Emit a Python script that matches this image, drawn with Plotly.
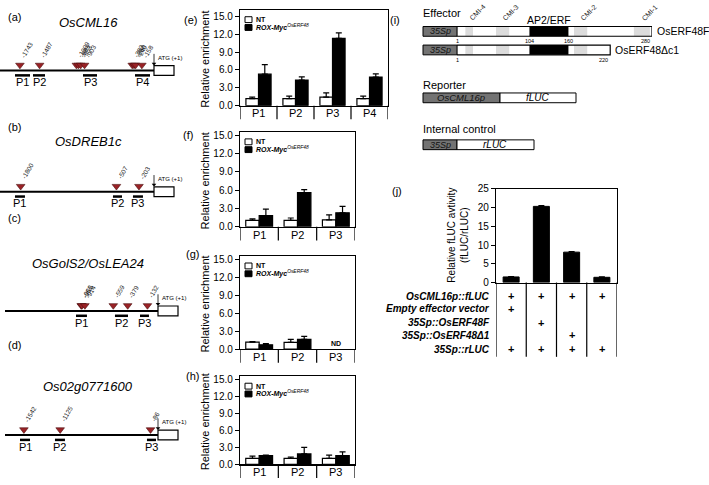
import plotly.graph_objects as go

W, H = 709, 485
FONT = "Liberation Sans, Arial, Helvetica, sans-serif"


def X(px):
    return px / W


def Y(py):
    return 1 - py / H


# ---------------- data ----------------
# (e)-(h) ChIP-qPCR relative enrichment (NT vs ROX-Myc-OsERF48)
e_cats = ["P1", "P2", "P3", "P4"]
e_nt = [1.2, 1.2, 1.45, 1.2]
e_nt_err = [0.25, 0.4, 0.7, 0.4]
e_rox = [5.3, 4.3, 11.3, 4.8]
e_rox_err = [1.6, 0.55, 0.95, 0.55]

f_cats = ["P1", "P2", "P3"]
f_nt = [1.05, 1.05, 1.15]
f_nt_err = [0.25, 0.4, 0.8]
f_rox = [1.85, 5.6, 2.3]
f_rox_err = [1.05, 0.5, 1.05]

g_cats = ["P1", "P2", "P3"]
g_nt = [1.15, 1.1, None]
g_nt_err = [0.1, 0.5, 0]
g_rox = [0.7, 1.6, None]
g_rox_err = [0.2, 0.5, 0]
g_nd_index = 2

h_cats = ["P1", "P2", "P3"]
h_nt = [1.05, 1.05, 1.05]
h_nt_err = [0.4, 0.25, 0.6]
h_rox = [1.55, 1.85, 1.55]
h_rox_err = [0.1, 1.15, 0.65]

enrich_ticks = [0, 3, 6, 9, 12, 15]

# (j) transient assay
j_values = [1.5, 20.3, 8.1, 1.4]
j_errors = [0.1, 0.2, 0.15, 0.1]
j_ticks = [0, 5, 10, 15, 20, 25]
j_row_labels = ["OsCML16p::fLUC", "Empty effector vector", "35Sp::OsERF48F",
                "35Sp::OsERF48\u03941", "35Sp::rLUC"]
j_plus = [[1, 1, 1, 1],
          [1, 0, 0, 0],
          [0, 1, 0, 0],
          [0, 0, 1, 0],
          [1, 1, 1, 1]]

# (a)-(d) promoter diagrams (bp relative to ATG)
atg_pos = 0
a_sites = [-1743, -1487, -1009, -983, -953, -903, -283, -260, -240, -158]
a_primers = [(-1807, -1612), (-1573, -1417), (-923, -741), (-247, -52)]
b_sites = [-1800, -507, -203]
b_primers = [(-1877, -1742), (-554, -432), (-284, -149)]
c_sites = [-960, -951, -914, -559, -379, -132]
c_primers = [(-1025, -888), (-538, -375), (-225, -113)]
d_sites = [-1542, -1125, -86]
d_primers = [(-1587, -1472), (-1185, -1070), (-127, -23)]

# (i) constructs (amino acids)
erf_names = ["OsERF48F", "OsERF48\u0394c1"]
erf_lengths = [280, 220]
cmi_names = ["CMI-4", "CMI-3", "CMI-2", "CMI-1"]
cmi_starts = [12, 56, 168, 254]
cmi_ends = [23, 75, 187, 277]
ap2_range = [104, 160]
ap2_ticks = [1, 104, 160]

# ---------------- helpers ----------------
fig = go.Figure()
shapes = []
annots = []


def txt(x, y, text, size=10, xref="paper", yref="paper", xanchor="center",
        yanchor="middle", angle=0, color="black", **kw):
    annots.append(dict(x=x, y=y, xref=xref, yref=yref, text=text, showarrow=False,
                       font=dict(family=FONT, size=size, color=color),
                       xanchor=xanchor, yanchor=yanchor, textangle=angle, **kw))


def rect(x0, y0, x1, y1, fill="white", line="black", lw=1.0, xref="paper", yref="paper"):
    shapes.append(dict(type="rect", x0=x0, y0=y0, x1=x1, y1=y1, xref=xref, yref=yref,
                       fillcolor=fill, line=dict(color=line, width=lw), layer="above"))


def seg(x0, y0, x1, y1, lw=1.0, color="black", xref="paper", yref="paper"):
    shapes.append(dict(type="line", x0=x0, y0=y0, x1=x1, y1=y1, xref=xref, yref=yref,
                       line=dict(color=color, width=lw), layer="above"))


axes = {}

# ---------------- bar panels (e)-(h) ----------------
panels = [
    dict(letter="(e)", cats=e_cats, nt=e_nt, nte=e_nt_err, rox=e_rox, roxe=e_rox_err,
         box=(240, 388, 5, 103), ymax=16.1, lpos=(190, 15)),
    dict(letter="(f)", cats=f_cats, nt=f_nt, nte=f_nt_err, rox=f_rox, roxe=f_rox_err,
         box=(240, 355, 130, 227), ymax=15.5, lpos=(188, 133)),
    dict(letter="(g)", cats=g_cats, nt=g_nt, nte=g_nt_err, rox=g_rox, roxe=g_rox_err,
         box=(240, 355, 257, 352), ymax=15.5, lpos=(192, 255)),
    dict(letter="(h)", cats=h_cats, nt=h_nt, nte=h_nt_err, rox=h_rox, roxe=h_rox_err,
         box=(240, 355, 380, 470), ymax=15.6, lpos=(192, 380)),
]

for i, p in enumerate(panels, start=1):
    xa = "x" if i == 1 else f"x{i}"
    ya = "y" if i == 1 else f"y{i}"
    l, r, t, b = p["box"]
    n = len(p["cats"])
    xs = list(range(n))
    bw = 0.34 if n == 4 else 0.35
    fig.add_trace(go.Bar(
        x=xs, y=p["nt"], width=bw, offset=-bw, xaxis=xa, yaxis=ya, showlegend=False,
        marker=dict(color="white", line=dict(color="black", width=1.2)),
        error_y=dict(type="data", array=p["nte"], arrayminus=[0] * n, symmetric=False,
                     color="black", thickness=1.2, width=3)))
    fig.add_trace(go.Bar(
        x=xs, y=p["rox"], width=bw, offset=0, xaxis=xa, yaxis=ya, showlegend=False,
        marker=dict(color="black", line=dict(color="black", width=1.2)),
        error_y=dict(type="data", array=p["roxe"], arrayminus=[0] * n, symmetric=False,
                     color="black", thickness=1.2, width=3)))
    axes["xaxis" if i == 1 else f"xaxis{i}"] = dict(
        domain=[X(l), X(r)], range=[-0.5, n - 0.5], anchor=ya, showline=True, mirror=True,
        linecolor="black", linewidth=1.2, ticks="", tickvals=xs, showticklabels=False,
        showgrid=False, zeroline=False)
    axes["yaxis" if i == 1 else f"yaxis{i}"] = dict(
        domain=[Y(b), Y(t)], range=[0, p["ymax"]], anchor=xa, showline=True, mirror=True,
        linecolor="black", linewidth=1.2, ticks="outside", ticklen=4, tickwidth=1,
        tickcolor="black", tickvals=enrich_ticks, ticktext=[f"{v:.1f}" for v in enrich_ticks],
        tickfont=dict(size=10, color="black"), showgrid=False, zeroline=False)
    # category cell dividers and labels
    for k in range(n + 1):
        seg(k - 0.5, Y(b), k - 0.5, Y(min(b + 14, H)), lw=1.2, xref=xa)
    for k, c in enumerate(p["cats"]):
        txt(k, Y(b + 8), c, size=11, xref=xa)
    # y title
    txt(X(205), Y((t + b) / 2 + 2), "Relative enrichment", size=11, angle=-90)
    # panel letter
    txt(X(p["lpos"][0]), Y(p["lpos"][1]), p["letter"], size=11)
    # legend
    rect(X(l + 5), Y(t + 13), X(l + 12), Y(t + 7), fill="white", lw=1)
    rect(X(l + 5), Y(t + 21), X(l + 12), Y(t + 15), fill="black", lw=1)
    txt(X(l + 14), Y(t + 10), "<b>NT</b>", size=7, xanchor="left")
    txt(X(l + 14), Y(t + 18), "<b><i>ROX-Myc</i></b><sup><i>OsERF48</i></sup>", size=7,
        xanchor="left")

# ND label on (g)
txt(g_nd_index, Y(352 - 6), "<b>ND</b>", size=7, xref="x3")

# ---------------- panel (j) ----------------
jl, jr, jt, jb = 496, 617, 188, 284
jx = list(range(len(j_values)))
fig.add_trace(go.Bar(
    x=jx, y=j_values, width=0.53, offset=-0.265, xaxis="x5", yaxis="y5", showlegend=False,
    marker=dict(color="black", line=dict(color="black", width=1)),
    error_y=dict(type="data", array=j_errors, arrayminus=[0] * len(jx), symmetric=False,
                 color="black", thickness=1.2, width=3)))
axes["xaxis5"] = dict(domain=[X(jl), X(jr)], range=[-0.5, len(jx) - 0.5], anchor="y5",
                      showline=True, mirror=True, linecolor="black", linewidth=1.2,
                      ticks="", showticklabels=False, showgrid=False, zeroline=False)
axes["yaxis5"] = dict(domain=[Y(jb), Y(jt)], range=[0, 25], anchor="x5", showline=True,
                      mirror=True, linecolor="black", linewidth=1.2, ticks="outside",
                      ticklen=4, tickwidth=1, tickcolor="black", tickvals=j_ticks,
                      tickfont=dict(size=10, color="black"), showgrid=False, zeroline=False)
for k in range(len(jx) + 1):
    seg(k - 0.5, Y(jb), k - 0.5, Y(360), lw=1.2, xref="x5")
row_y = [298, 311, 325, 338, 352]
for ri, lab in enumerate(j_row_labels):
    txt(X(492), Y(row_y[ri]), f"<b><i>{lab}</i></b>", size=10, xanchor="right")
    for ci, on in enumerate(j_plus[ri]):
        if on:
            txt(ci, Y(row_y[ri]), "<b>+</b>", size=11, xref="x5")
txt(X(458), Y(236), "Relative fLUC avtivity<br>(fLUC/rLUC)", size=10, angle=-90)
txt(X(397), Y(190), "(j)", size=11)

# ---------------- promoter diagrams (a)-(d) ----------------
axes["yaxis6"] = dict(domain=[0, 1], range=[H, 0], visible=False, anchor="x6")
genes = [
    dict(letter="(a)", lpos=(14, 12), title="OsCML16", title_y=18, line_y=67, atg=154,
         scale=13.0, start=0, sites=a_sites, primers=a_primers),
    dict(letter="(b)", lpos=(14, 125), title="OsDREB1c", title_y=140, line_y=191, atg=154,
         scale=13.5, start=0, sites=b_sites, primers=b_primers),
    dict(letter="(c)", lpos=(14, 218), title="OsGolS2/OsLEA24", title_y=265, line_y=313,
         atg=158, scale=12.5, start=5, sites=c_sites, primers=c_primers),
    dict(letter="(d)", lpos=(14, 348), title="Os02g0771600", title_y=390, line_y=440,
         atg=158, scale=11.5, start=5, sites=d_sites, primers=d_primers),
]
for gi, g in enumerate(genes):
    k = 6 + gi
    xa = f"x{k}"
    sc, atg, ly = g["scale"], g["atg"], g["line_y"]
    axes[f"xaxis{k}"] = dict(domain=[0, X(180)], range=[(0 - atg) * sc, (180 - atg) * sc],
                             visible=False, anchor="y6")
    # promoter line and gene box
    seg((g["start"] - atg) * sc, ly, atg_pos, ly, lw=2, xref=xa, yref="y6")
    rect(atg_pos, ly - 5, atg_pos + 20 * sc, ly + 5, fill="white", lw=1.2, xref=xa, yref="y6")
    # binding sites
    fig.add_trace(go.Scatter(
        x=g["sites"], y=[ly - 5.5] * len(g["sites"]), xaxis=xa, yaxis="y6", mode="markers",
        showlegend=False, hoverinfo="skip",
        marker=dict(symbol="triangle-down", size=7.5, color="#9a2226",
                    line=dict(color="#4a0d0d", width=0.6))))
    for s in g["sites"]:
        txt(s, ly - 9.5, f"{s}", size=6.5, xref=xa, yref="y6", xanchor="left",
            yanchor="bottom", angle=-60, xshift=-3, color="#222")
    # primers
    for pi, (p0, p1) in enumerate(g["primers"]):
        seg(p0, ly + 5, p1, ly + 5, lw=2.5, xref=xa, yref="y6")
        txt((p0 + p1) / 2, ly + 12, f"P{pi + 1}", size=11, xref=xa, yref="y6")
    # ATG arrow (stem + head)
    seg(atg_pos, ly - 17, atg_pos, ly - 7, lw=0.8, xref=xa, yref="y6")
    fig.add_trace(go.Scatter(
        x=[atg_pos], y=[ly - 7], xaxis=xa, yaxis="y6", mode="markers", showlegend=False,
        hoverinfo="skip", marker=dict(symbol="triangle-down", size=4, color="black")))
    txt(atg_pos, ly - 13, "ATG (+1)", size=6, xref=xa, yref="y6", xanchor="left", xshift=2)
    txt(X(88), Y(g["title_y"]), f"<i>{g['title']}</i>", size=13)
    txt(X(g["lpos"][0]), Y(g["lpos"][1]), g["letter"], size=11)

# ---------------- constructs (i) ----------------
axes["xaxis10"] = dict(domain=[X(457), X(652)], range=[0, 280], visible=False, anchor="y6")
rows = [(22, 32), (41, 51)]
name_x = [655, 613]
for ri, length in enumerate(erf_lengths):
    t, b = rows[ri]
    rect(X(423), t, X(457), b, fill="#737373", lw=1, yref="y6")
    txt(X(440), (t + b) / 2, "<i>35Sp</i>", size=9, yref="y6", color="#111")
    rect(0, t, length, b, fill="white", lw=0, xref="x10", yref="y6")
    for cs, ce in zip(cmi_starts, cmi_ends):
        if ce <= length:
            rect(cs, t, ce, b, fill="#dcdcdc", lw=0, xref="x10", yref="y6")
    rect(ap2_range[0], t, ap2_range[1], b, fill="black", lw=0, xref="x10", yref="y6")
    rect(0, t, length, b, fill="rgba(0,0,0,0)", lw=1.2, xref="x10", yref="y6")
    tick_list = [v for v in ap2_ticks if ri == 0 or v == 1] + [length]
    for v in tick_list:
        txt(v, b + 5, str(v), size=5.5, xref="x10", yref="y6",
            xanchor="right" if v == length else "center")
    txt(X(name_x[ri]), (t + b) / 2, erf_names[ri], size=10.5, yref="y6", xanchor="left")
for nm, cs, ce in zip(cmi_names, cmi_starts, cmi_ends):
    txt((cs + ce) / 2, 20, nm, size=7, xref="x10", yref="y6", xanchor="left",
        yanchor="bottom", angle=-45, xshift=-4, color="#222")
txt((ap2_range[0] + ap2_range[1]) / 2, 15, "AP2/ERF", size=10.5, xref="x10", yref="y6")
txt(X(421), Y(8), "Effector", size=11, xanchor="left")
txt(X(395), Y(15), "(i)", size=11)

txt(X(421), Y(82), "Reporter", size=11, xanchor="left")
rect(X(423), Y(100), X(500), Y(90), fill="#737373", lw=1)
txt(X(461), Y(95), "<i>OsCML16p</i>", size=9.5, color="#111")
rect(X(500), Y(100), X(576), Y(90), fill="white", lw=1)
txt(X(538), Y(95), "<i>fLUC</i>", size=10)

txt(X(421), Y(127), "Internal control", size=11, xanchor="left")
rect(X(423), Y(148), X(457), Y(138), fill="#737373", lw=1)
txt(X(440), Y(143), "<i>35Sp</i>", size=9, color="#111")
rect(X(457), Y(148), X(534), Y(138), fill="white", lw=1)
txt(X(495), Y(143), "<i>rLUC</i>", size=10)

fig.update_layout(
    width=W, height=H, autosize=False, margin=dict(l=0, r=0, t=0, b=0),
    paper_bgcolor="white", plot_bgcolor="rgba(0,0,0,0)",
    font=dict(family=FONT, color="black"), barmode="overlay", hovermode=False,
    shapes=shapes, annotations=annots, **axes)

fig.write_html("out.html", config={"displayModeBar": False, "staticPlot": True},
               post_script="document.body.style.margin='0px';"
                           "document.body.style.overflow='hidden';")
